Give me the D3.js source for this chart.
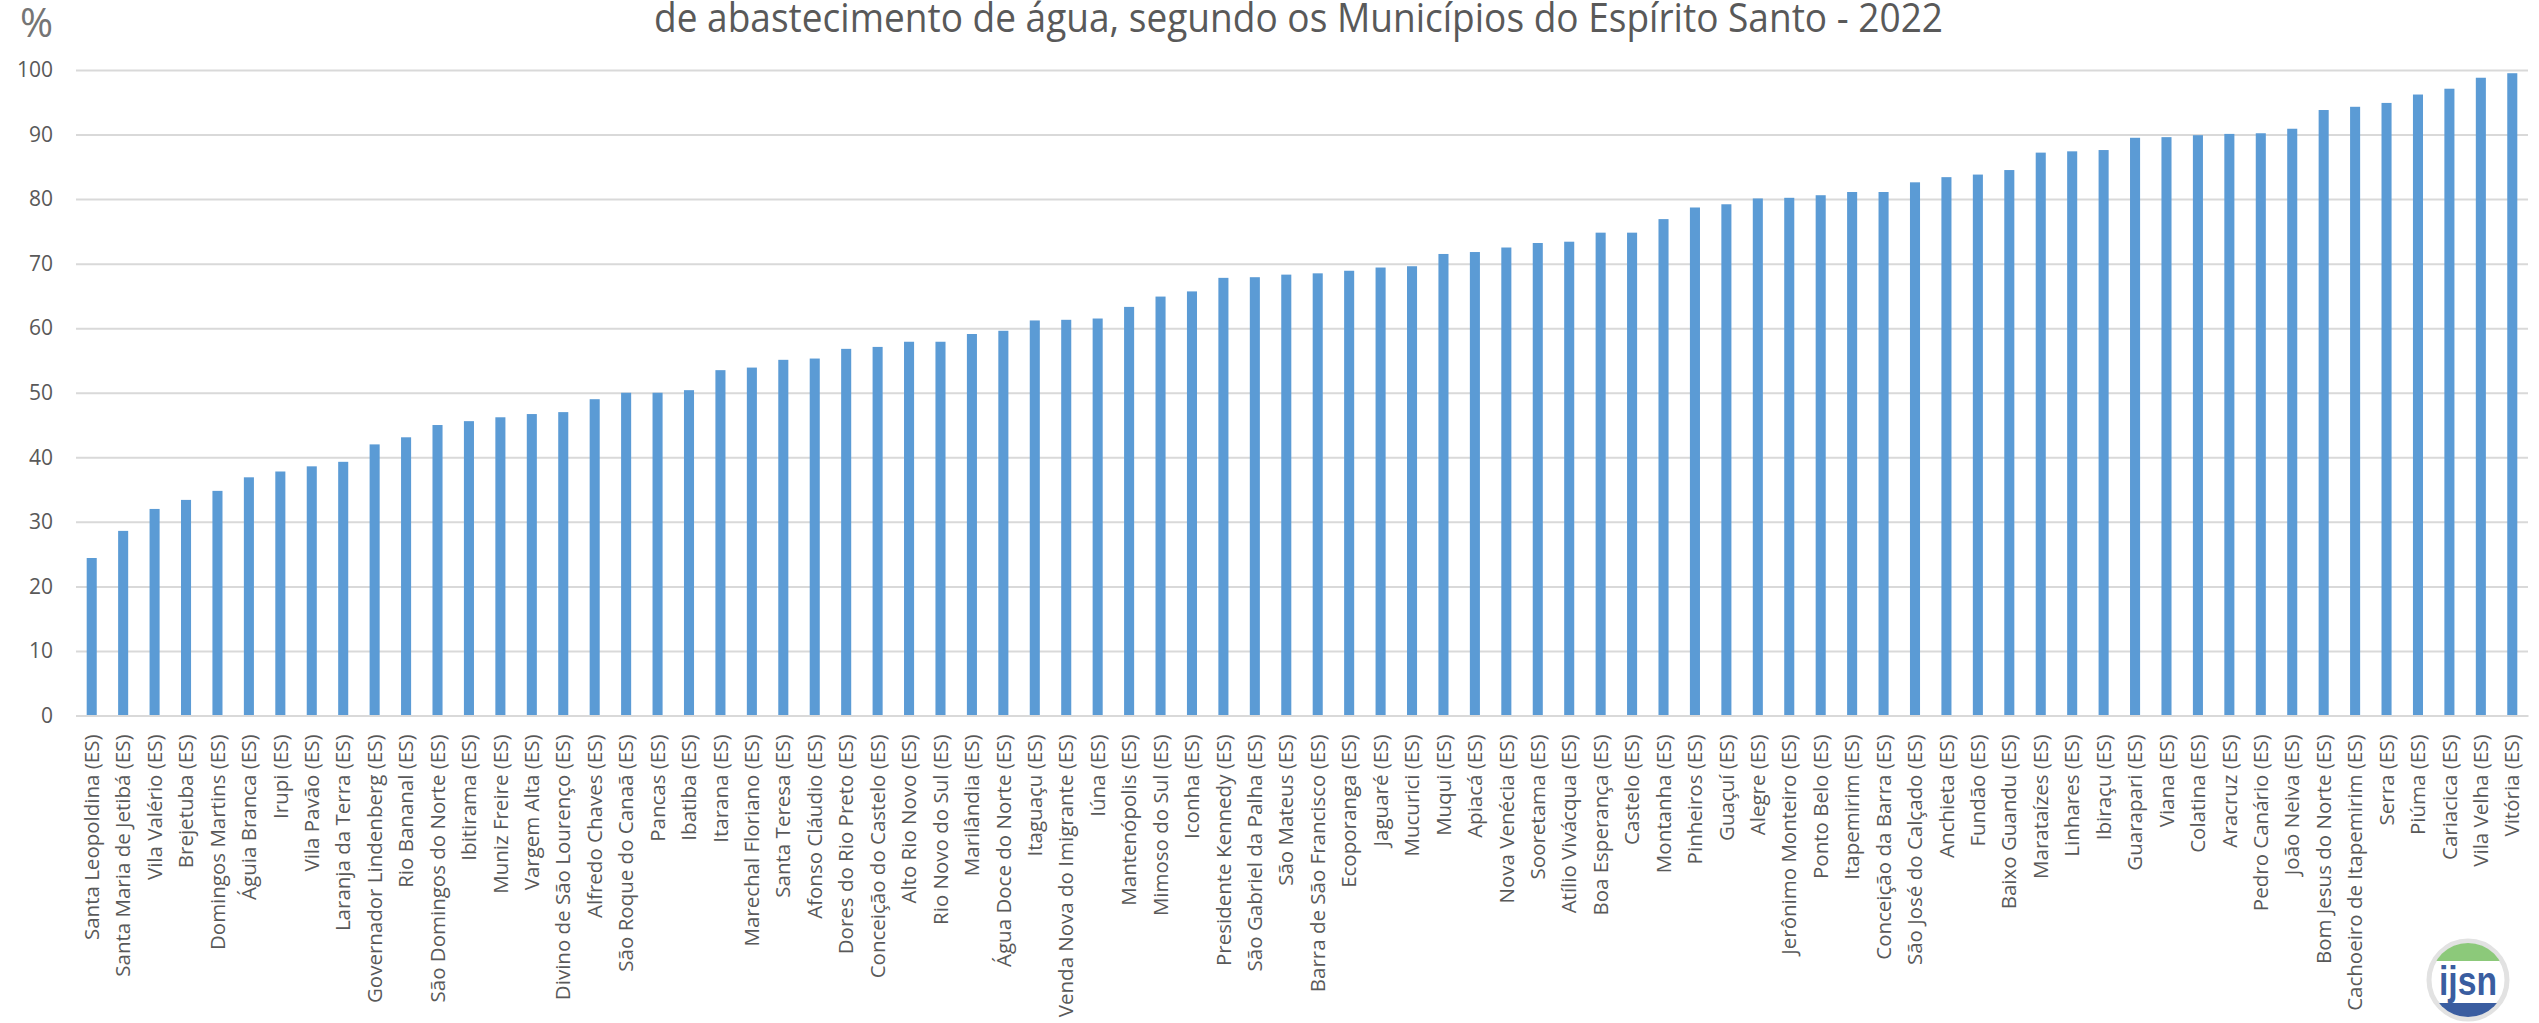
<!DOCTYPE html>
<html><head><meta charset="utf-8">
<script src="https://cdn.jsdelivr.net/npm/d3@7"></script>
<style>html,body{margin:0;padding:0;background:#fff;overflow:hidden}</style>
</head><body>
<svg id="chart" width="2539" height="1023"></svg>
<script>
const titleText = "de abastecimento de água, segundo os Municípios do Espírito Santo - 2022";
const unitLabel = "%";
const municipios = ["Santa Leopoldina (ES)","Santa Maria de Jetibá (ES)","Vila Valério (ES)","Brejetuba (ES)","Domingos Martins (ES)","Águia Branca (ES)","Irupi (ES)","Vila Pavão (ES)","Laranja da Terra (ES)","Governador Lindenberg (ES)","Rio Bananal (ES)","São Domingos do Norte (ES)","Ibitirama (ES)","Muniz Freire (ES)","Vargem Alta (ES)","Divino de São Lourenço (ES)","Alfredo Chaves (ES)","São Roque do Canaã (ES)","Pancas (ES)","Ibatiba (ES)","Itarana (ES)","Marechal Floriano (ES)","Santa Teresa (ES)","Afonso Cláudio (ES)","Dores do Rio Preto (ES)","Conceição do Castelo (ES)","Alto Rio Novo (ES)","Rio Novo do Sul (ES)","Marilândia (ES)","Água Doce do Norte (ES)","Itaguaçu (ES)","Venda Nova do Imigrante (ES)","Iúna (ES)","Mantenópolis (ES)","Mimoso do Sul (ES)","Iconha (ES)","Presidente Kennedy (ES)","São Gabriel da Palha (ES)","São Mateus (ES)","Barra de São Francisco (ES)","Ecoporanga (ES)","Jaguaré (ES)","Mucurici (ES)","Muqui (ES)","Apiacá (ES)","Nova Venécia (ES)","Sooretama (ES)","Atílio Vivácqua (ES)","Boa Esperança (ES)","Castelo (ES)","Montanha (ES)","Pinheiros (ES)","Guaçuí (ES)","Alegre (ES)","Jerônimo Monteiro (ES)","Ponto Belo (ES)","Itapemirim (ES)","Conceição da Barra (ES)","São José do Calçado (ES)","Anchieta (ES)","Fundão (ES)","Baixo Guandu (ES)","Marataízes (ES)","Linhares (ES)","Ibiraçu (ES)","Guarapari (ES)","Viana (ES)","Colatina (ES)","Aracruz (ES)","Pedro Canário (ES)","João Neiva (ES)","Bom Jesus do Norte (ES)","Cachoeiro de Itapemirim (ES)","Serra (ES)","Piúma (ES)","Cariacica (ES)","Vila Velha (ES)","Vitória (ES)"];
const valores = [24.4,28.6,32.0,33.4,34.8,36.9,37.8,38.6,39.3,42.0,43.1,45.0,45.6,46.2,46.7,47.0,49.0,50.0,50.0,50.4,53.5,53.9,55.1,55.3,56.8,57.1,57.9,57.9,59.1,59.6,61.2,61.3,61.5,63.3,64.9,65.7,67.8,67.9,68.3,68.5,68.9,69.4,69.6,71.5,71.8,72.5,73.2,73.4,74.8,74.8,76.9,78.7,79.2,80.1,80.2,80.6,81.1,81.1,82.6,83.4,83.8,84.5,87.2,87.4,87.6,89.5,89.6,89.9,90.1,90.2,90.9,93.8,94.3,94.9,96.2,97.1,98.8,99.5];
const yTicks = [0,10,20,30,40,50,60,70,80,90,100];

const svg = d3.select("#chart");
const mLeft = 76, mRight = 2528, mTop = 70, mBottom = 715.5;
const x = d3.scaleBand().domain(municipios).range([mLeft, mRight]).paddingInner(0.68).paddingOuter(0.34);
const y = d3.scaleLinear().domain([0, 100]).range([mBottom, mTop]);

// gridlines
const grid = svg.append("g").attr("transform", `translate(${mLeft},0)`)
  .call(d3.axisLeft(y).tickValues(yTicks).tickSize(-(mRight-mLeft)).tickFormat(""));
grid.select(".domain").remove();
grid.selectAll("line").attr("stroke", "#d9d9d9").attr("stroke-width", 2);

// y tick labels
const yAx = svg.append("g").attr("transform", `translate(${mLeft},0)`)
  .call(d3.axisLeft(y).tickValues(yTicks).tickSize(0).tickPadding(23));
yAx.select(".domain").remove();
yAx.selectAll("text").attr("fill", "#595959").style("font-family", "'Open Sans', sans-serif").style("font-size", "21px");

// bars
svg.append("g").selectAll("rect").data(valores).join("rect")
  .attr("x", (d, i) => x(municipios[i]))
  .attr("width", x.bandwidth())
  .attr("y", d => y(d))
  .attr("height", d => y(0) - y(d))
  .attr("fill", "#5b9bd5");

// x axis
const xAx = svg.append("g").attr("transform", `translate(0,${mBottom})`)
  .call(d3.axisBottom(x).tickSize(0).tickSizeOuter(0));
xAx.select(".domain").attr("stroke", "#d9d9d9").attr("stroke-width", 2);
xAx.selectAll("text")
  .attr("fill", "#595959")
  .style("font-family", "'Open Sans', sans-serif").style("font-size", "20.5px")
  .attr("text-anchor", "end")
  .attr("transform", "rotate(-90)")
  .attr("x", -19).attr("y", 0).attr("dy", "0.35em");

// title
svg.append("text").text(titleText)
  .attr("x", 654).attr("y", 32)
  .attr("textLength", 1289).attr("lengthAdjust", "spacingAndGlyphs")
  .attr("fill", "#595959")
  .style("font-family", "'Open Sans', sans-serif").style("font-size", "41px");

// unit label
svg.append("text").text(unitLabel)
  .attr("x", 20).attr("y", 37)
  .attr("fill", "#757575")
  .style("font-family", "'Open Sans', sans-serif").style("font-size", "40px");

// logo
const defs = svg.append("defs");
defs.append("clipPath").attr("id", "lc").append("circle").attr("r", 37);
const logo = svg.append("g").attr("transform", "translate(2468,980)");
logo.append("circle").attr("r", 39).attr("fill", "#fff").attr("stroke", "#e2e2e2").attr("stroke-width", 5);
const inner = logo.append("g").attr("clip-path", "url(#lc)");
inner.append("rect").attr("x", -40).attr("y", -40).attr("width", 80).attr("height", 21).attr("fill", "#8cc97a");
inner.append("rect").attr("x", -40).attr("y", 23).attr("width", 80).attr("height", 20).attr("fill", "#3a5da0");
logo.append("text").text("ijsn").attr("text-anchor", "middle").attr("y", 15)
  .attr("textLength", 58).attr("lengthAdjust", "spacingAndGlyphs")
  .attr("fill", "#3a5da0").style("font-family", "'Liberation Sans', sans-serif")
  .style("font-weight", "bold").style("font-size", "40px");
</script>
</body></html>
